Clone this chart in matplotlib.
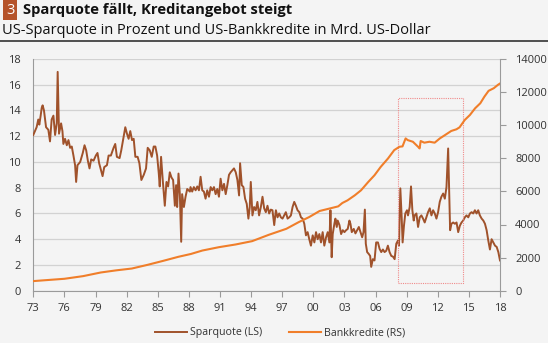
import matplotlib
import matplotlib.pyplot as plt
from matplotlib.patches import Rectangle
matplotlib.use('Agg')

plt.rcParams['font.family'] = ['Open Sans', 'DejaVu Sans']

# US-Sparquote in % (LS)
spar_years = [
    1973.00, 1973.32, 1973.48, 1973.58, 1973.71, 1973.81, 1973.90, 1974.03, 1974.23, 1974.45,
    1974.61, 1974.77, 1974.94, 1975.10, 1975.26, 1975.35, 1975.48, 1975.68, 1975.81, 1975.90,
    1976.06, 1976.23, 1976.39, 1976.55, 1976.71, 1976.87, 1977.03, 1977.13, 1977.26, 1977.52,
    1977.77, 1977.94, 1978.10, 1978.26, 1978.42, 1978.58, 1978.81, 1979.03, 1979.19, 1979.35,
    1979.52, 1979.68, 1979.84, 1980.10, 1980.26, 1980.48, 1980.74, 1980.90, 1981.06, 1981.32,
    1981.48, 1981.65, 1981.87, 1982.03, 1982.19, 1982.35, 1982.52, 1982.68, 1982.84, 1983.06,
    1983.23, 1983.42, 1983.65, 1983.87, 1984.03, 1984.23, 1984.42, 1984.61, 1984.77, 1984.94,
    1985.10, 1985.19, 1985.32, 1985.48, 1985.68, 1985.84, 1986.00, 1986.16, 1986.32, 1986.48,
    1986.65, 1986.77, 1986.87, 1987.00, 1987.13, 1987.26, 1987.35, 1987.52, 1987.68, 1987.84,
    1988.10, 1988.16, 1988.32, 1988.48, 1988.65, 1988.81, 1988.97, 1989.13, 1989.29, 1989.45,
    1989.61, 1989.77, 1989.94, 1990.10, 1990.26, 1990.42, 1990.58, 1990.74, 1990.90, 1991.06,
    1991.23, 1991.39, 1991.55, 1991.71, 1991.87, 1992.03, 1992.19, 1992.35, 1992.52, 1992.68,
    1992.84, 1992.94, 1993.10, 1993.26, 1993.42, 1993.58, 1993.74, 1993.87, 1993.97, 1994.13,
    1994.29, 1994.45, 1994.61, 1994.77, 1994.94, 1995.10, 1995.26, 1995.42, 1995.58, 1995.74,
    1995.90, 1996.06, 1996.23, 1996.39, 1996.55, 1996.71, 1996.87, 1997.03, 1997.19, 1997.35,
    1997.52, 1997.68, 1997.84, 1998.00, 1998.16, 1998.32, 1998.48, 1998.65, 1998.81, 1998.97,
    1999.13, 1999.29, 1999.45, 1999.61, 1999.77, 1999.94, 2000.10, 2000.26, 2000.42, 2000.58,
    2000.74, 2000.90, 2001.06, 2001.23, 2001.39, 2001.55, 2001.65, 2001.77, 2001.87, 2002.03,
    2002.13, 2002.26, 2002.35, 2002.52, 2002.68, 2002.84, 2003.00, 2003.16, 2003.32, 2003.48,
    2003.58, 2003.71, 2003.90, 2004.06, 2004.23, 2004.39, 2004.55, 2004.71, 2004.84, 2004.97,
    2005.06, 2005.19, 2005.35, 2005.48, 2005.58, 2005.74, 2005.90, 2006.06, 2006.23, 2006.39,
    2006.55, 2006.71, 2006.87, 2007.03, 2007.19, 2007.35, 2007.52, 2007.68, 2007.84, 2008.00,
    2008.16, 2008.26, 2008.39, 2008.52, 2008.61, 2008.74, 2008.87, 2009.03, 2009.13, 2009.29,
    2009.42, 2009.55, 2009.68, 2009.77, 2009.94, 2010.10, 2010.26, 2010.42, 2010.58, 2010.74,
    2010.90, 2011.06, 2011.23, 2011.39, 2011.55, 2011.71, 2011.87, 2012.03, 2012.19, 2012.35,
    2012.52, 2012.68, 2012.84, 2013.00, 2013.10, 2013.19, 2013.32, 2013.48, 2013.65, 2013.81,
    2013.97, 2014.13, 2014.29, 2014.45, 2014.61, 2014.77, 2014.94, 2015.10, 2015.26, 2015.42,
    2015.58, 2015.74, 2015.90, 2016.06, 2016.23, 2016.39, 2016.55, 2016.71, 2016.87, 2017.03,
    2017.19, 2017.35, 2017.52, 2017.68, 2017.84, 2018.00,
]
spar_values = [
    12.1, 12.7, 13.3, 12.9, 13.6, 14.2, 14.4, 14.0, 12.7, 12.5,
    11.6, 13.3, 13.6, 12.1, 13.0, 17.0, 12.2, 13.0, 12.4, 11.4,
    11.8, 11.3, 11.7, 11.1, 11.2, 10.5, 9.75, 8.45, 9.75, 10.0,
    10.7, 11.3, 10.9, 10.1, 9.5, 10.2, 10.1, 10.5, 10.7, 9.9,
    9.4, 8.9, 9.6, 9.75, 10.5, 10.5, 11.1, 11.4, 10.4, 10.3,
    10.9, 11.7, 12.7, 12.2, 11.8, 12.4, 11.7, 11.8, 10.4, 10.4,
    9.9, 8.6, 9.0, 9.5, 11.1, 10.9, 10.4, 11.2, 11.2, 10.5,
    9.1, 8.1, 10.4, 8.6, 6.6, 8.45, 8.1, 9.2, 8.8, 8.6,
    6.6, 8.2, 6.5, 9.1, 7.5, 3.8, 7.5, 6.5, 7.3, 7.9,
    7.7, 8.05, 7.7, 8.05, 7.8, 8.1, 7.8, 8.85, 7.8, 7.7,
    7.15, 7.8, 7.3, 8.05, 7.8, 8.05, 7.5, 7.9, 7.3, 8.7,
    7.8, 8.3, 7.5, 8.2, 9.0, 9.2, 9.35, 9.5, 9.2, 8.6,
    7.4, 9.9, 8.2, 8.05, 7.15, 6.75, 5.6, 6.5, 8.45, 5.85,
    6.5, 6.25, 6.9, 5.85, 6.5, 7.3, 6.4, 6.1, 6.6, 6.0,
    6.3, 6.25, 5.1, 6.25, 5.7, 6.0, 5.7, 5.6, 5.85, 6.1,
    5.6, 5.7, 5.85, 6.5, 6.9, 6.6, 6.25, 6.1, 5.7, 5.6,
    5.2, 4.3, 4.55, 4.0, 3.5, 4.3, 3.75, 4.55, 4.0, 4.4,
    3.75, 4.55, 3.5, 4.15, 4.55, 3.75, 6.25, 2.6, 4.4, 5.2,
    5.6, 4.95, 5.45, 5.1, 4.4, 4.7, 4.55, 4.7, 4.8, 5.45,
    5.2, 4.55, 4.8, 4.45, 4.7, 4.95, 4.55, 4.15, 4.55, 6.3,
    3.65, 3.0, 2.85, 2.7, 1.85, 2.45, 2.35, 3.75, 3.75, 3.25,
    3.0, 3.2, 3.0, 3.1, 3.5, 3.0, 2.7, 2.65, 2.45, 3.65,
    3.9, 3.5, 7.95, 5.7, 3.75, 5.05, 6.0, 6.25, 5.85, 6.5,
    8.1, 6.25, 5.45, 5.85, 6.0, 4.95, 5.7, 5.85, 5.6, 5.3,
    5.7, 6.1, 6.4, 5.85, 6.25, 6.0, 5.6, 6.1, 6.9, 7.3,
    7.55, 7.15, 8.05, 11.05, 7.8, 4.7, 5.2, 5.3, 5.2, 5.3,
    4.55, 5.05, 5.3, 5.45, 5.7, 5.85, 5.7, 6.0, 6.1, 6.0,
    6.25, 6.0, 6.25, 5.85, 5.6, 5.45, 5.2, 4.7, 3.9, 3.2,
    4.0, 3.75, 3.5, 3.4, 3.0, 2.35,
]

# US-Bankkredite in Mrd. USD (RS)
kredit_years = [
    1973.0, 1974.5, 1976.0, 1977.8, 1979.5, 1981.0, 1982.5, 1984.0, 1985.5, 1987.0,
    1988.2, 1989.3, 1990.9, 1992.5, 1994.1, 1995.7, 1997.4, 1998.6, 1999.6, 2000.6,
    2001.5, 2002.4, 2002.8, 2003.3, 2004.0, 2004.6, 2005.3, 2005.9, 2006.5, 2007.2,
    2007.8, 2008.3, 2008.6, 2008.9, 2009.1, 2009.6, 2010.1, 2010.25, 2010.35, 2010.7,
    2011.2, 2011.7, 2012.2, 2012.7, 2013.3, 2013.8, 2014.1, 2014.6, 2015.1, 2015.6,
    2016.1, 2016.5, 2016.9, 2017.4, 2017.8, 2018.2,
]
kredit_values = [
    580, 650, 720, 880, 1100, 1230, 1340, 1560, 1800, 2050,
    2220, 2427, 2630, 2792, 2994, 3376, 3741, 4146, 4449, 4815,
    4955, 5095, 5300, 5460, 5764, 6067, 6573, 6977, 7483, 7988,
    8494, 8696, 8720, 9202, 9100, 9000, 8696, 8596, 9045, 8944,
    9000, 8944, 9202, 9405, 9652, 9753, 9871, 10315, 10618, 11022,
    11325, 11729, 12077, 12235, 12438, 12600,
]

x_ticks = list(range(1973, 2019, 3))
x_labels = ['73', '76', '79', '82', '85', '88', '91', '94',
            '97', '00', '03', '06', '09', '12', '15', '18']

brown = '#a0522b'
orange = '#f07e2a'
grey = '#9a9a9a'
bg = '#f4f4f4'
txt = '#333333'

fig = plt.figure(figsize=(5.48, 3.43), dpi=100, facecolor=bg)
ax = fig.add_axes([33.3 / 548, 1 - 290.7 / 343, (500 - 33.3) / 548, (290.7 - 59) / 343])
ax.set_facecolor(bg)
ax2 = ax.twinx()

ax.plot(spar_years, spar_values, color=brown, lw=1.4, zorder=3)
ax2.plot(kredit_years, kredit_values, color=orange, lw=1.5, zorder=3)

# highlighted window 2008-2014
ax.add_patch(Rectangle((2008.2, 0.6), 6.25, 14.4, fill=False, ec='#f08a8a',
                       ls=(0, (1, 1)), lw=0.8, zorder=4))

ax.set_xlim(1973, 2018)
ax.set_ylim(0, 18)
ax.set_yticks(range(0, 19, 2))
ax2.set_ylim(0, 14000)
ax2.set_yticks(range(0, 14001, 2000))
ax.set_xticks(x_ticks, x_labels)

ax.grid(axis='y', color='#d2d2d2', lw=0.9)
ax.set_axisbelow(True)

for a in (ax, ax2):
    for s in a.spines.values():
        s.set_visible(False)
ax.spines['left'].set_visible(True)
ax.spines['bottom'].set_visible(True)
ax2.spines['right'].set_visible(True)
ax.spines['left'].set_color(grey)
ax.spines['bottom'].set_color(grey)
ax2.spines['right'].set_color(grey)

ax.tick_params(axis='y', length=0, pad=9, labelsize=8, labelcolor=txt)
ax.tick_params(axis='x', length=4, color=grey, pad=5, labelsize=8, labelcolor=txt)
ax2.tick_params(axis='y', length=4, color=grey, pad=7, labelsize=8, labelcolor=txt)

# legend below the plot
h1, = ax.plot([], [], color=brown, lw=1.4)
h2, = ax.plot([], [], color=orange, lw=1.5)
fig.legend([h1, h2], ['Sparquote (LS)', 'Bankkredite (RS)'], loc='center',
           bbox_to_anchor=(280 / 548, 1 - 333 / 343), ncol=2, frameon=False,
           fontsize=7.7, handlelength=3.0, handletextpad=0.3, columnspacing=2.5,
           labelcolor=txt)

# header
fig.text(6 / 548, 1 - 10 / 343, '3', ha='left', va='center', fontsize=10.5, color='white',
         bbox=dict(boxstyle='square,pad=0.2', fc='#b5532a', ec='none'))
fig.text(23 / 548, 1 - 10 / 343, 'Sparquote fällt, Kreditangebot steigt', ha='left',
         va='center', fontsize=10.6, fontweight='bold', color='#111111')
fig.text(2 / 548, 1 - 30 / 343, 'US-Sparquote in Prozent und US-Bankkredite in Mrd. US-Dollar',
         ha='left', va='center', fontsize=10.5, color='#111111')
fig.add_artist(plt.Line2D([0, 1], [1 - 41 / 343] * 2, color='#333333', lw=1.2))

fig.savefig('out.png', dpi=100, facecolor=bg)
